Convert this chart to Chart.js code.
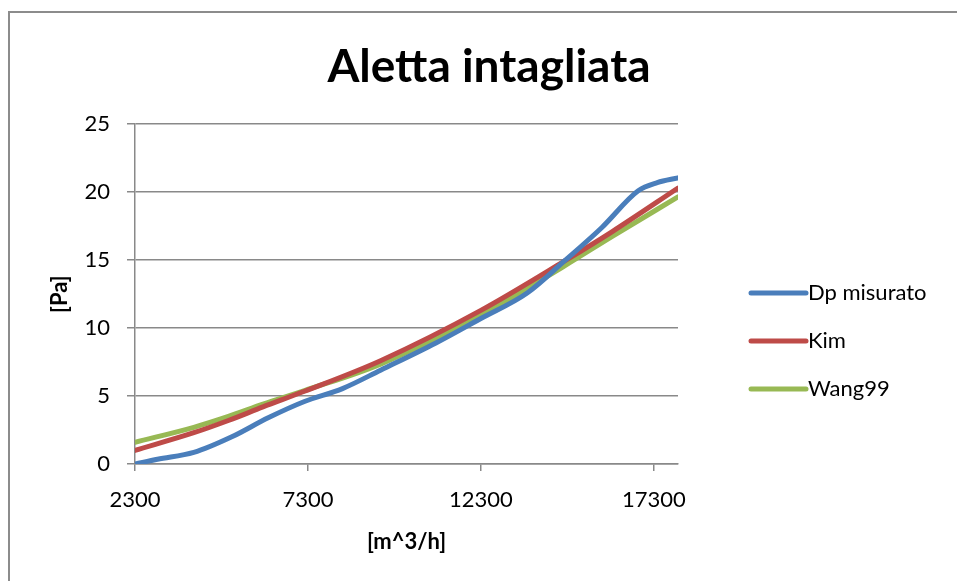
<!DOCTYPE html>
<html>
<head>
<meta charset="utf-8">
<title>Aletta intagliata</title>
<script src="https://cdn.jsdelivr.net/npm/chart.js@4.4.1/dist/chart.umd.min.js"></script>
<style>
  html, body { margin: 0; padding: 0; background: #ffffff; overflow: hidden; }
  #wrap { position: relative; width: 957px; height: 581px; }
  #frame { position: absolute; left: 8px; top: 11px; width: 1000px; height: 600px;
           border: 2px solid #8c8c8c; box-sizing: border-box; pointer-events: none; }
  canvas { position: absolute; left: 0; top: 0; }
</style>
</head>
<body>
<div id="wrap">
  <div id="frame"></div>
  <canvas id="chart" width="957" height="581"></canvas>
</div>
<script>
// Texts
const chartTitle = 'Aletta intagliata';
const xAxisTitle = '[m^3/h]';
const yAxisTitle = '[Pa]';
const seriesNames = ['Dp misurato', 'Kim', 'Wang99'];
const seriesColors = ['#4A7EBB', '#BE4B48', '#98B954'];

// Measured pressure drop [Pa] against air flow [m^3/h]
const measuredFlow = [2300, 2950, 4000, 5100, 6150, 7200, 8300, 9400, 11000, 12300, 13650, 14700, 15800, 16850, 17400, 18000];
const measuredDp   = [0.0, 0.35, 0.85, 2.0, 3.4, 4.6, 5.55, 6.9, 8.9, 10.7, 12.6, 14.9, 17.4, 20.1, 20.7, 21.05];

// Correlation predictions (Kim, Wang99)
const modelFlow = [2300, 4000, 5000, 6000, 7200, 9400, 12300, 14700, 16100, 18000];
const kimDp     = [1.0, 2.3, 3.2, 4.2, 5.35, 7.6, 11.3, 14.9, 17.1, 20.3];
const wang99Dp  = [1.6, 2.7, 3.5, 4.4, 5.4, 7.35, 10.95, 14.55, 16.75, 19.65];

// Axis ranges and ticks
const xTickValues = [2300, 7300, 12300, 17300];
const xMin = 2300, xMax = 18000;
const yMin = 0, yMax = 25, yStep = 5;

const toPoints = (xs, ys) => xs.map((x, i) => ({ x, y: ys[i] }));

const FONT = 'Lato';
const gridColor = '#898989';

// Legend placed as a layout box on the right side of the plot
const sideLegend = {
  id: 'sideLegend',
  beforeInit(chart) {
    const box = {
      position: 'right',
      weight: 1000,
      fullSize: false,
      options: {},
      left: 0, top: 0, right: 0, bottom: 0, width: 0, height: 0,
      isHorizontal() { return false; },
      update(maxWidth, maxHeight) {
        this.width = 279;
        this.height = maxHeight;
      },
      draw() {
        const { ctx, chartArea } = chart;
        const x0 = chartArea.right + 73;
        const len = 55;
        const step = 48;
        const midY = (chartArea.top + chartArea.bottom) / 2 + 47;
        const sets = chart.data.datasets;
        ctx.save();
        ctx.font = '22px ' + FONT;
        ctx.textBaseline = 'middle';
        ctx.textAlign = 'left';
        sets.forEach((ds, i) => {
          const y = midY + (i - (sets.length - 1) / 2) * step;
          ctx.strokeStyle = ds.borderColor;
          ctx.lineWidth = ds.borderWidth;
          ctx.lineCap = 'round';
          ctx.beginPath();
          ctx.moveTo(x0, y);
          ctx.lineTo(x0 + len, y);
          ctx.stroke();
          ctx.fillStyle = '#000000';
          ctx.fillText(ds.label, x0 + len + 2, y);
        });
        ctx.restore();
      }
    };
    Chart.layouts.addBox(chart, box);
  }
};

function lineSet(i, xs, ys) {
  return {
    label: seriesNames[i],
    data: toPoints(xs, ys),
    borderColor: seriesColors[i],
    backgroundColor: seriesColors[i],
    borderWidth: 5,
    borderCapStyle: 'round',
    borderJoinStyle: 'round',
    pointRadius: 0,
    pointHoverRadius: 0,
    showLine: true,
    fill: false,
    cubicInterpolationMode: 'monotone'
  };
}

function draw() {
  new Chart(document.getElementById('chart'), {
    type: 'scatter',
    data: {
      datasets: [
        lineSet(0, measuredFlow, measuredDp),
        lineSet(1, modelFlow, kimDp),
        lineSet(2, modelFlow, wang99Dp)
      ]
    },
    options: {
      responsive: false,
      animation: false,
      devicePixelRatio: 1,
      layout: { padding: { left: 21, right: 0, top: 0, bottom: 0 } },
      plugins: {
        legend: { display: false },
        tooltip: { enabled: false },
        title: {
          display: true,
          text: chartTitle,
          color: '#000000',
          font: { family: FONT, size: 46, weight: 'bold' },
          padding: { top: 40, bottom: 29 }
        }
      },
      scales: {
        x: {
          type: 'linear',
          position: 'bottom',
          min: xMin,
          max: xMax,
          afterBuildTicks: (scale) => { scale.ticks = xTickValues.map(v => ({ value: v })); },
          afterFit: (scale) => { scale.height = 117; },
          grid: { drawOnChartArea: false, drawTicks: true, tickLength: 7, color: gridColor, lineWidth: 1.5 },
          border: { display: true, color: gridColor, width: 1.5 },
          ticks: {
            color: '#000000',
            font: { family: FONT, size: 22 },
            padding: 16,
            maxRotation: 0,
            autoSkip: false,
            callback: (v) => String(v)
          },
          title: {
            display: true,
            text: xAxisTitle,
            color: '#000000',
            font: { family: FONT, size: 22, weight: 'bold' },
            padding: { top: 0, bottom: 26 }
          }
        },
        y: {
          type: 'linear',
          min: yMin,
          max: yMax,
          afterFit: (scale) => { scale.width = 114; },
          grid: { drawTicks: true, tickLength: 8, color: gridColor, lineWidth: 1.5 },
          border: { display: true, color: gridColor, width: 1.5 },
          ticks: {
            stepSize: yStep,
            color: '#000000',
            font: { family: FONT, size: 22 },
            padding: 17
          },
          title: {
            display: true,
            text: yAxisTitle,
            color: '#000000',
            font: { family: FONT, size: 22, weight: 'bold' },
            padding: { top: 26, bottom: 0 }
          }
        }
      }
    },
    plugins: [sideLegend]
  });
}

Promise.all([
  document.fonts.load('22px ' + FONT),
  document.fonts.load('bold 22px ' + FONT),
  document.fonts.load('bold 46px ' + FONT)
]).then(draw, draw);
</script>
</body>
</html>
